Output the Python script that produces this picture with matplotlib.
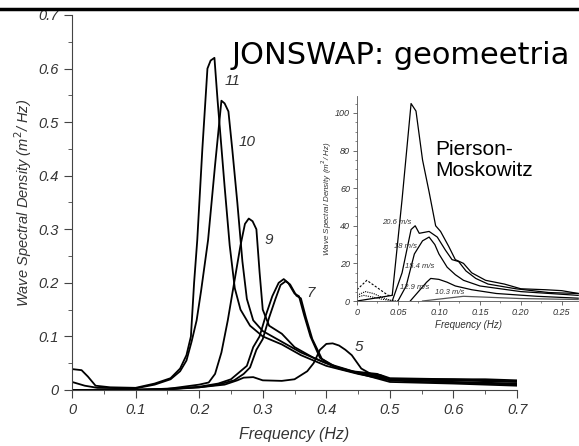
import matplotlib
matplotlib.use('Agg')
import matplotlib.pyplot as plt
from matplotlib.lines import Line2D
from matplotlib.ticker import MultipleLocator

# JONSWAP spectra, main panel (frequency Hz, density m^2/Hz)
f11 = [0, 0.015, 0.025, 0.037, 0.06, 0.1, 0.13, 0.155, 0.17, 0.18, 0.187, 0.192, 0.197, 0.205, 0.213,
       0.218, 0.224, 0.229, 0.24, 0.248, 0.256, 0.265, 0.28, 0.3, 0.33, 0.36, 0.4, 0.45, 0.5, 0.55,
       0.6, 0.65, 0.7]
s11 = [0.039, 0.037, 0.025, 0.008, 0.005, 0.004, 0.012, 0.022, 0.04, 0.065, 0.1, 0.2, 0.28, 0.45, 0.6,
       0.615, 0.62, 0.54, 0.38, 0.27, 0.19, 0.15, 0.12, 0.1, 0.085, 0.065, 0.045, 0.03, 0.018, 0.015,
       0.014, 0.012, 0.01]
f10 = [0, 0.02, 0.04, 0.1, 0.13, 0.155, 0.17, 0.18, 0.188, 0.196, 0.203, 0.214, 0.225, 0.235, 0.24,
       0.246, 0.252, 0.26, 0.268, 0.275, 0.285, 0.3, 0.33, 0.36, 0.4, 0.45, 0.5, 0.55, 0.6, 0.65, 0.7]
s10 = [0.015, 0.008, 0.004, 0.003, 0.01, 0.02, 0.035, 0.055, 0.09, 0.13, 0.185, 0.28, 0.42, 0.54, 0.535,
       0.52, 0.45, 0.35, 0.24, 0.17, 0.13, 0.11, 0.09, 0.07, 0.05, 0.032, 0.02, 0.02, 0.02, 0.02, 0.018]
f9 = [0, 0.1, 0.15, 0.2, 0.215, 0.225, 0.235, 0.245, 0.255, 0.265, 0.272, 0.278, 0.284, 0.29, 0.295,
      0.3, 0.31, 0.33, 0.35, 0.38, 0.42, 0.46, 0.5, 0.6, 0.7]
s9 = [0, 0, 0.002, 0.01, 0.014, 0.03, 0.07, 0.13, 0.2, 0.27, 0.31, 0.32, 0.315, 0.3, 0.22,
      0.15, 0.12, 0.105, 0.08, 0.06, 0.04, 0.028, 0.015, 0.012, 0.008]
f7a = [0, 0.15, 0.2, 0.23, 0.25, 0.265, 0.275, 0.285, 0.295, 0.305, 0.315, 0.325, 0.333, 0.34, 0.35,
       0.357, 0.365, 0.375, 0.39, 0.41, 0.44, 0.48, 0.5, 0.6, 0.7]
s7a = [0, 0.001, 0.006, 0.012, 0.02, 0.035, 0.045, 0.08, 0.1, 0.14, 0.175, 0.2, 0.207, 0.2, 0.18,
       0.175, 0.14, 0.1, 0.06, 0.045, 0.035, 0.03, 0.02, 0.018, 0.015]
f7b = [0, 0.15, 0.2, 0.23, 0.255, 0.27, 0.28, 0.29, 0.3, 0.31, 0.32, 0.328, 0.336, 0.343, 0.353,
       0.36, 0.368, 0.378, 0.393, 0.415, 0.445, 0.485, 0.5, 0.6, 0.7]
s7b = [0, 0.001, 0.005, 0.01, 0.018, 0.03, 0.042, 0.075, 0.095, 0.135, 0.17, 0.196, 0.203, 0.197, 0.176,
       0.171, 0.135, 0.095, 0.058, 0.043, 0.033, 0.028, 0.022, 0.02, 0.016]
f5 = [0, 0.1, 0.2, 0.24, 0.26, 0.27, 0.285, 0.3, 0.33, 0.35, 0.37, 0.38, 0.39, 0.4, 0.41, 0.42, 0.43,
      0.44, 0.455, 0.47, 0.5, 0.6, 0.7]
s5 = [0, 0, 0.005, 0.01, 0.018, 0.023, 0.024, 0.018, 0.017, 0.02, 0.035, 0.05, 0.075, 0.086, 0.087,
      0.083, 0.075, 0.065, 0.04, 0.03, 0.02, 0.015, 0.012]
curve_names = ['11', '10', '9', '7', '5']
label_f = [0.252, 0.275, 0.31, 0.376, 0.451]
label_s = [0.577, 0.463, 0.28, 0.181, 0.080]

# Pierson-Moskowitz inset (wind speeds)
pm_f206 = [0, 0.043, 0.055, 0.066, 0.072, 0.08, 0.088, 0.096, 0.102, 0.112, 0.12, 0.13, 0.14, 0.157,
           0.18, 0.2, 0.23, 0.25, 0.27]
pm_s206 = [0, 3, 54, 105, 101, 75, 58, 40, 37, 29, 22, 20, 15, 11, 9, 6.5, 6, 5.5, 4]
pm_f18 = [0.043, 0.055, 0.066, 0.071, 0.076, 0.088, 0.098, 0.108, 0.116, 0.124, 0.133, 0.145, 0.16,
          0.194, 0.234, 0.27]
pm_s18 = [0, 15, 38, 40, 36, 37, 34, 27, 22, 21, 16, 12, 9, 6.5, 4.5, 4]
pm_f154 = [0.05, 0.06, 0.07, 0.08, 0.088, 0.095, 0.1, 0.11, 0.12, 0.13, 0.15, 0.2, 0.27]
pm_s154 = [0, 8, 25, 32, 34, 30, 25, 18, 14, 11, 8, 5, 3]
pm_f129 = [0.065, 0.075, 0.085, 0.09, 0.1, 0.11, 0.12, 0.14, 0.17, 0.22, 0.27]
pm_s129 = [0, 5, 10, 12, 11.5, 10, 8, 6, 4, 2.5, 1.5]
pm_f103 = [0.08, 0.1, 0.13, 0.16, 0.2, 0.27]
pm_s103 = [0, 1, 2.5, 2, 1.3, 0.8]
pm_dash_f = [0, 0.012, 0.025, 0.038, 0.043]
pm_dash_s = [6, 11, 7, 3, 3]
pm_dot1_f = [0, 0.01, 0.02, 0.03, 0.04, 0.05]
pm_dot1_s = [3, 5, 4, 2, 0.5, 0]
pm_dot2_f = [0, 0.008, 0.02, 0.03, 0.045]
pm_dot2_s = [2, 3, 2, 1, 0]
pm_names = ['20.6 m/s', '18 m/s', '15.4 m/s', '12.9 m/s', '10.3 m/s']
pm_label_f = [0.049, 0.059, 0.076, 0.071, 0.113]
pm_label_s = [42, 29, 18.5, 7, 4.3]

txtc = '#333333'
ital = dict(family='Liberation Sans', style='italic', color=txtc)

fig = plt.figure(figsize=(5.79, 4.46), dpi=100)
fig.add_artist(Line2D([0, 1], [0.98, 0.98], color='black', lw=2.5, transform=fig.transFigure))

ax = fig.add_axes([0.1244, 0.1256, 0.7686, 0.8408])
for fx, sy in [(f11, s11), (f10, s10), (f9, s9), (f7a, s7a), (f7b, s7b), (f5, s5)]:
    ax.plot(fx, sy, color='black', lw=1.3)
for name, lx, ly in zip(curve_names, label_f, label_s):
    ax.text(lx, ly, name, ha='center', va='center', fontsize=11, **ital)
ax.set_xlim(0, 0.7)
ax.set_ylim(0, 0.7)
ax.spines['top'].set_visible(False)
ax.spines['right'].set_visible(False)
ax.spines['left'].set_color('#444444')
ax.spines['bottom'].set_color('#444444')
ax.set_xticks([0, 0.1, 0.2, 0.3, 0.4, 0.5, 0.6, 0.7])
ax.set_xticklabels(['0', '0.1', '0.2', '0.3', '0.4', '0.5', '0.6', '0.7'], **ital)
ax.set_yticks([0, 0.1, 0.2, 0.3, 0.4, 0.5, 0.6, 0.7])
ax.set_yticklabels(['0', '0.1', '0.2', '0.3', '0.4', '0.5', '0.6', '0.7'], **ital)
ax.xaxis.set_minor_locator(MultipleLocator(0.05))
ax.yaxis.set_minor_locator(MultipleLocator(0.05))
ax.tick_params(which='major', length=6, color='#444444', labelsize=10.5, labelcolor=txtc)
ax.tick_params(which='minor', length=3, color='#444444')
ax.set_xlabel('Frequency (Hz)', fontsize=11.5, labelpad=7, **ital)
ax.set_ylabel('Wave Spectral Density (m$^2$/ Hz)', fontsize=10.5, labelpad=3, **ital)

fig.text(0.4, 0.857, 'JONSWAP: geomeetria', fontsize=22, family='DejaVu Sans', color='black',
         va='baseline', ha='left')

ins = fig.add_axes([0.6166, 0.3251, 0.3834, 0.4596])
ins.set_facecolor('white')
ins.plot(pm_f206, pm_s206, color='black', lw=0.9)
ins.plot(pm_f18, pm_s18, color='black', lw=0.9)
ins.plot(pm_f154, pm_s154, color='black', lw=0.9)
ins.plot(pm_f129, pm_s129, color='black', lw=0.9)
ins.plot(pm_f103, pm_s103, color='#555555', lw=0.9)
ins.plot(pm_dash_f, pm_dash_s, color='black', lw=0.8, ls=(0, (2, 1.5)))
ins.plot(pm_dot1_f, pm_dot1_s, color='black', lw=0.8, ls=(0, (1, 1)))
ins.plot(pm_dot2_f, pm_dot2_s, color='black', lw=0.8, ls=(0, (1, 1)))
for name, lx, ly in zip(pm_names, pm_label_f, pm_label_s):
    ins.text(lx, ly, name, ha='center', va='center', fontsize=5.5, **ital)
ins.text(0.095, 75, 'Pierson-\nMoskowitz', fontsize=15, family='Liberation Sans',
         color='black', ha='left', va='center', linespacing=1.1)
ins.set_xlim(0, 0.271)
ins.set_ylim(0, 109)
ins.spines['top'].set_visible(False)
ins.spines['right'].set_visible(False)
ins.spines['left'].set_color('#555555')
ins.spines['bottom'].set_color('#555555')
ins.spines['left'].set_linewidth(0.6)
ins.spines['bottom'].set_linewidth(0.6)
ins.set_xticks([0, 0.05, 0.1, 0.15, 0.2, 0.25])
ins.set_xticklabels(['0', '0.05', '0.10', '0.15', '0.20', '0.25'], **ital)
ins.set_yticks([0, 20, 40, 60, 80, 100])
ins.set_yticklabels(['0', '20', '40', '60', '80', '100'], **ital)
ins.xaxis.set_minor_locator(MultipleLocator(0.025))
ins.yaxis.set_minor_locator(MultipleLocator(5))
ins.tick_params(which='major', length=3, width=0.6, color='#555555', labelsize=6.5, pad=2)
ins.tick_params(which='minor', length=1.5, width=0.5, color='#555555')
ins.set_xlabel('Frequency (Hz)', fontsize=7, labelpad=2, **ital)
ins.set_ylabel('Wave Spectral Density (m$^2$/ Hz)', fontsize=5.8, labelpad=1, **ital)

fig.savefig('out.png', dpi=100)
